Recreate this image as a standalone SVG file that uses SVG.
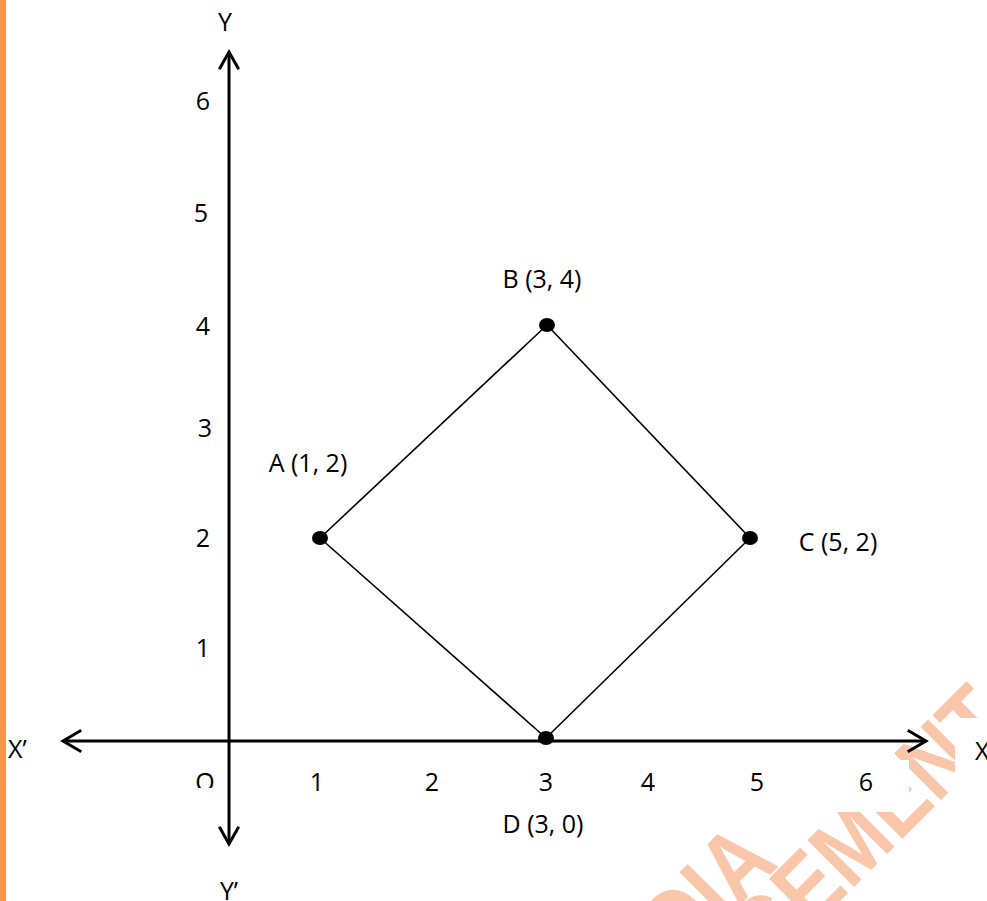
<svg xmlns="http://www.w3.org/2000/svg" width="987" height="901" viewBox="0 0 987 901">
  <style>
    .lbl { font-family: "Open Sans", "Liberation Sans", sans-serif; font-size: 25px; fill: #000; }
    .mid { text-anchor: middle; }
    .axis { stroke: #000; stroke-width: 3; fill: none; }
    .arrow { stroke: #000; stroke-width: 3; fill: none; stroke-linecap: square; }
    .edge { stroke: #000; stroke-width: 1.6; fill: none; }
    .wm { font-family: "Liberation Sans", Arial, sans-serif; font-weight: bold; font-size: 96px; fill: #FAC6A9; }
  </style>
  <defs>
    <clipPath id="clipO"><rect x="190" y="760" width="30" height="28"/></clipPath>
  </defs>
  <rect x="0" y="0" width="987" height="901" fill="#fff"/>
  <rect x="0" y="0" width="6" height="901" fill="#F79646"/>

  <g id="watermark">
    <text class="wm" text-anchor="end" transform="translate(780,865) rotate(-45) scale(0.85,1)">DIA</text>
    <text class="wm" transform="translate(767,974) rotate(-45) scale(0.85,1)">GEMENT</text>
  </g>
  <g id="label-boxes" fill="#fff">
    <rect x="170" y="760" width="739" height="52"/>
    <rect x="955" y="718" width="32" height="59"/>
  </g>

  <g id="axes">
    <line class="axis" x1="63" y1="741" x2="926" y2="741"/>
    <line class="axis" x1="229" y1="52" x2="229" y2="844"/>
    <polyline class="arrow" points="80,731 63,741 80,751"/>
    <polyline class="arrow" points="909,731 926,741 909,751"/>
    <polyline class="arrow" points="220,68 229,52 238,68"/>
    <polyline class="arrow" points="220,828 229,844 238,828"/>
    <text class="lbl mid" x="225" y="31">Y</text>
    <text class="lbl mid" x="229" y="900">Y’</text>
    <text class="lbl" x="8" y="758">X’</text>
    <text class="lbl" x="975" y="760">X</text>
    <text class="lbl mid" x="205" y="791" clip-path="url(#clipO)">O</text>
  </g>

  <g id="y-ticks">
    <text class="lbl mid" x="203" y="110">6</text>
    <text class="lbl mid" x="201" y="222">5</text>
    <text class="lbl mid" x="203" y="335">4</text>
    <text class="lbl mid" x="205" y="437">3</text>
    <text class="lbl mid" x="203" y="547">2</text>
    <text class="lbl mid" x="203" y="657">1</text>
  </g>
  <g id="x-ticks">
    <text class="lbl mid" x="317" y="791">1</text>
    <text class="lbl mid" x="432" y="791">2</text>
    <text class="lbl mid" x="546" y="791">3</text>
    <text class="lbl mid" x="648" y="791">4</text>
    <text class="lbl mid" x="757" y="791">5</text>
    <text class="lbl mid" x="866" y="791">6</text>
  </g>

  <g id="connectors">
    <line class="edge" x1="320" y1="538" x2="547" y2="325"/>
    <line class="edge" x1="547" y1="325" x2="750" y2="538"/>
    <line class="edge" x1="750" y1="538" x2="546" y2="738"/>
    <line class="edge" x1="546" y1="738" x2="320" y2="538"/>
  </g>

  <g id="node-A">
    <ellipse cx="320" cy="538" rx="8" ry="7" fill="#000"/>
    <text class="lbl mid" x="308" y="472">A (1, 2)</text>
  </g>
  <g id="node-B">
    <ellipse cx="547" cy="325" rx="8" ry="7" fill="#000"/>
    <text class="lbl mid" x="542" y="288">B (3, 4)</text>
  </g>
  <g id="node-C">
    <ellipse cx="750" cy="538" rx="8" ry="7" fill="#000"/>
    <text class="lbl mid" x="838" y="551">C (5, 2)</text>
  </g>
  <g id="node-D">
    <ellipse cx="546" cy="738" rx="8" ry="7" fill="#000"/>
    <text class="lbl mid" x="543" y="833">D (3, 0)</text>
  </g>
</svg>
